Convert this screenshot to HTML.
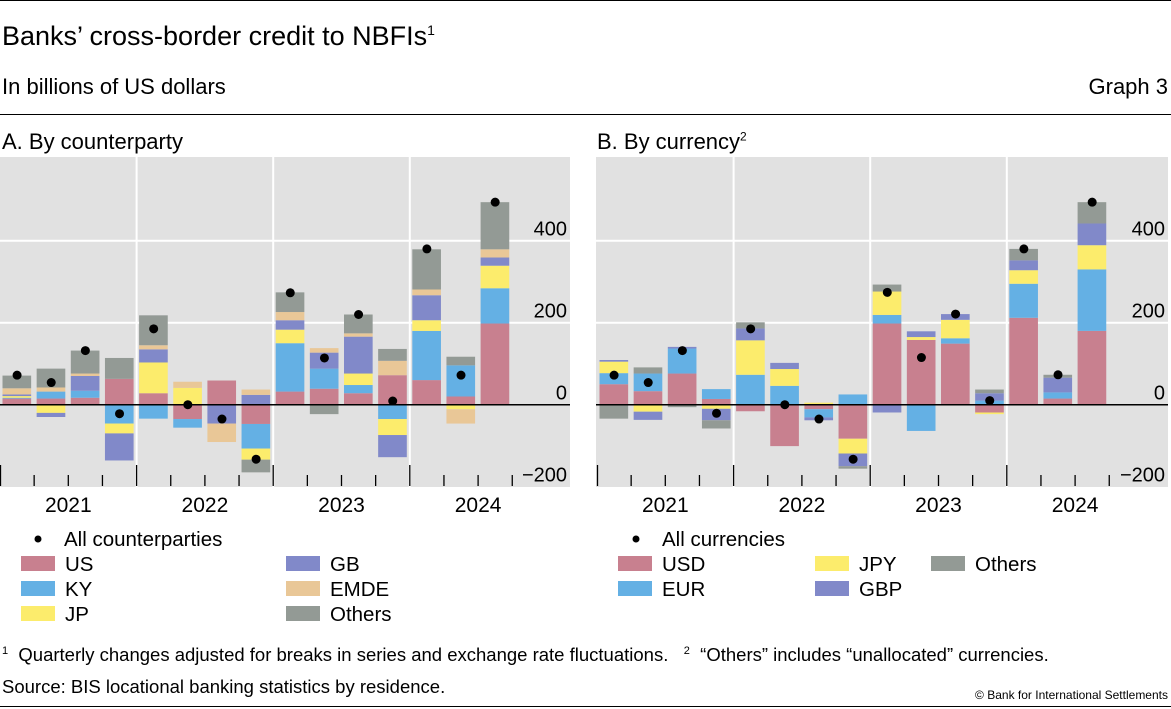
<!DOCTYPE html>
<html><head><meta charset="utf-8">
<style>
body{margin:0;background:#fff;font-family:"Liberation Sans",sans-serif;}
#wrap{position:relative;width:1171px;height:709px;overflow:hidden;}
.t{position:absolute;white-space:nowrap;color:#000;}
</style></head>
<body>
<div id="wrap">
<div style="position:absolute;left:0;top:0;width:1171px;height:1px;background:#000"></div>
<div class="t" style="left:2px;top:21px;font-size:27px">Banks’ cross-border credit to NBFIs<sup style="font-size:14px">1</sup></div>
<div class="t" style="left:2px;top:74px;font-size:22px">In billions of US dollars</div>
<div class="t" style="right:3px;top:74px;font-size:22px">Graph 3</div>
<div style="position:absolute;left:0;top:114px;width:1171px;height:1px;background:#000"></div>
<div class="t" style="left:2px;top:129px;font-size:22px">A. By counterparty</div>
<div class="t" style="left:597px;top:129px;font-size:22px">B. By currency<sup style="font-size:12px">2</sup></div>
<svg id="chart" width="1171" height="709" style="position:absolute;left:0;top:0"></svg>
<div class="t" style="left:2px;top:644px;font-size:18.5px"><sup style="font-size:11px">1</sup>&nbsp; Quarterly changes adjusted for breaks in series and exchange rate fluctuations. &nbsp;&nbsp;<sup style="font-size:11px">2</sup>&nbsp; “Others” includes “unallocated” currencies.</div>
<div class="t" style="left:2px;top:676px;font-size:18.5px">Source: BIS locational banking statistics by residence.</div>
<div class="t" style="right:3px;top:688px;font-size:12px">© Bank for International Settlements</div>
<div style="position:absolute;left:0;top:706px;width:1171px;height:1px;background:#000"></div>
</div>
<script>
// Panel A: by counterparty (2021Q1–2024Q3)
const quarters = ["21Q1","21Q2","21Q3","21Q4","22Q1","22Q2","22Q3","22Q4","23Q1","23Q2","23Q3","23Q4","24Q1","24Q2","24Q3"];
const years = ["2021","2022","2023","2024"];
const yTicks = [-200,0,200,400];
const aUS   = [15,15,17,63,28,-35,59,-47,32,39,28,72,60,20,198];
const aKY   = [2,17,17,-46,-34,-21,0,-60,118,49,20,-35,120,76,86];
const aJP   = [4,-20,0,-24,75,41,0,-27,33,0,28,-39,26,-11,55];
const aGB   = [4,-10,36,-66,32,0,-46,24,23,39,90,-54,61,0,20];
const aEMDE = [15,10,6,0,10,15,-45,13,20,11,8,35,14,-35,20];
const aOth  = [31,46,56,51,73,0,0,-31,48,-23,46,29,98,21,115];
const aTotal= [72,54,132,-22,185,0,-35,-133,273,114,220,9,380,72,494];
// Panel B: by currency
const bUSD  = [50,33,76,14,-16,-101,-11,-83,198,158,149,-19,212,15,180];
const bEUR  = [27,43,61,24,73,46,-20,25,21,-64,13,10,83,15,150];
const bJPY  = [28,-17,0,-10,84,41,5,-36,57,7,45,-4,33,0,59];
const bGBP  = [4,-20,4,-28,29,15,-7,-31,-19,14,14,18,24,36,53];
const bOth  = [-34,15,-6,-20,15,0,0,-6,17,0,0,9,28,7,52];
const bTotal= [72,54,132,-21,185,0,-35,-133,274,115,221,10,380,73,494];

const colors={pink:"#c8808f",blue:"#64b0e4",yellow:"#fcec6c",purple:"#8189c9",tan:"#e9c797",gray:"#939a95"};
const svg=document.getElementById('chart');
const NS="http://www.w3.org/2000/svg";
function mk(tag,attrs,parent){const e=document.createElementNS(NS,tag);for(const k in attrs)e.setAttribute(k,attrs[k]);(parent||svg).appendChild(e);return e;}
const y=v=>404.7-v*0.41;

function panel(key,x0,right,series,totals,legendItems,totalLabel,legendPos){
  const qw=34.15;
  const xq=i=>x0+qw*i;
  const g=mk('g',{});
  
  
  const bg=mk('rect',{x:x0-1,y:157,width:right-x0+1,height:330,fill:"#e1e1e1"},g);
  
  
  yTicks.forEach(t=>{
    if(t!==0&&t!==-200){const l=mk('line',{x1:x0-1,x2:right,y1:y(t),y2:y(t),stroke:"#fff","stroke-width":2},g);
      
      }
    const tx=mk('text',{x:right-3,y:y(t)-5,"text-anchor":"end","font-size":20,fill:"#000"},g);
    tx.textContent=t<0?"\u2212"+(-t):String(t);
    
    
  });
  for(let k=1;k<years.length;k++){
    const vl=mk('line',{x1:xq(4*k),x2:xq(4*k),y1:157,y2:487,stroke:"#fff","stroke-width":2},g);
    
    
  }
  quarters.forEach((q,i)=>{
    let pos=0,neg=0;
    series.forEach(s=>{
      const v=s.vals[i]; if(!v) return;
      let y0,y1;
      if(v>0){y0=pos;y1=pos+v;pos=y1;}else{y0=neg;y1=neg+v;neg=y1;}
      const r=mk('rect',{x:xq(i)+2.5,width:qw-5.5,y:Math.min(y(y0),y(y1)),height:Math.abs(y(y0)-y(y1)),fill:s.color},g);
      
      
    });
  });
  const z=mk('line',{x1:x0-1,x2:right,y1:y(0),y2:y(0),stroke:"#000","stroke-width":1.5},g);
  
  
  totals.forEach((v,i)=>{
    const c=mk('circle',{cx:xq(i)+qw/2,cy:y(v),r:4.5,fill:"#000"},g);
    
    
  });
  for(let i=1;i<=quarters.length;i++){
    const big=i%4===0;
    const tk=mk('line',{x1:xq(i),x2:xq(i),y1:big?465:475,y2:486,stroke:"#000","stroke-width":1.3},g);
    
    
  }
  const tk0=mk('line',{x1:x0+0.5,x2:x0+0.5,y1:465,y2:486,stroke:"#000","stroke-width":1.3},g);
  
  
  years.forEach((yr,k)=>{
    const t=mk('text',{x:xq(4*k+2),y:512,"text-anchor":"middle","font-size":21},g);
    t.textContent=yr;
    
    
  });
  // legend
  const lg=mk('g',{});
  
  
  const d=mk('circle',{cx:legendPos.dotX,cy:539,r:3.5,fill:"#000"},lg);
  
  
  const dt=mk('text',{x:legendPos.dotX+26,y:546,"font-size":20.5},lg);
  dt.textContent=totalLabel;
  
  
  legendItems.forEach(it=>{
    const s=mk('rect',{x:it.x,y:it.y-8,width:34,height:15,fill:it.color},lg);
    
    
    const t=mk('text',{x:it.x+44,y:it.y+7,"font-size":20.5},lg);
    t.textContent=it.label;
    
    
  });
}

panel('panel-a',0,570,[
  {name:'us',vals:aUS,color:colors.pink},{name:'ky',vals:aKY,color:colors.blue},
  {name:'jp',vals:aJP,color:colors.yellow},{name:'gb',vals:aGB,color:colors.purple},
  {name:'emde',vals:aEMDE,color:colors.tan},{name:'others',vals:aOth,color:colors.gray}],
  aTotal,[
  {label:'US',x:21,y:564,color:colors.pink},{label:'KY',x:21,y:589,color:colors.blue},
  {label:'JP',x:21,y:614,color:colors.yellow},{label:'GB',x:286,y:564,color:colors.purple},
  {label:'EMDE',x:286,y:589,color:colors.tan},{label:'Others',x:286,y:614,color:colors.gray}],
  'All counterparties',{dotX:38});

panel('panel-b',597,1168,[
  {name:'usd',vals:bUSD,color:colors.pink},{name:'eur',vals:bEUR,color:colors.blue},
  {name:'jpy',vals:bJPY,color:colors.yellow},{name:'gbp',vals:bGBP,color:colors.purple},
  {name:'others',vals:bOth,color:colors.gray}],
  bTotal,[
  {label:'USD',x:618,y:564,color:colors.pink},{label:'EUR',x:618,y:589,color:colors.blue},
  {label:'JPY',x:815,y:564,color:colors.yellow},{label:'GBP',x:815,y:589,color:colors.purple},
  {label:'Others',x:931,y:564,color:colors.gray}],
  'All currencies',{dotX:636});
</script>
</body></html>
